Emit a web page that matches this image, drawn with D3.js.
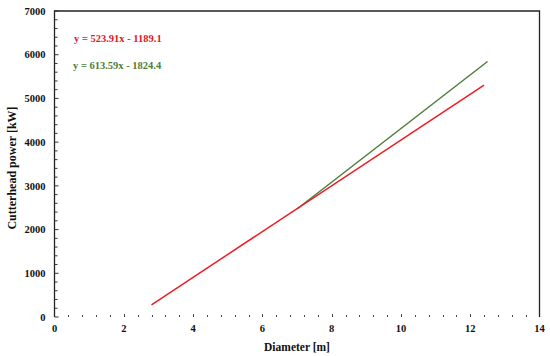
<!DOCTYPE html>
<html>
<head>
<meta charset="utf-8">
<script src="https://cdn.jsdelivr.net/npm/d3@7"></script>
<style>
  body { margin: 0; background: #fff; }
  svg { display: block; }
  text { font-family: "Liberation Serif", "Times New Roman", serif; font-weight: bold; }
</style>
</head>
<body>
<svg id="chart" width="550" height="356"></svg>
<script>
// Data
const xTicks = [0, 2, 4, 6, 8, 10, 12, 14];
const yTicks = [0, 1000, 2000, 3000, 4000, 5000, 6000, 7000];
const redX = [2.8, 12.4];
const redY = [278, 5307];
const greenX = [7.0, 12.5];
const greenY = [2471, 5845];
const redLabel = "y = 523.91x - 1189.1";
const greenLabel = "y = 613.59x - 1824.4";
const xTitle = "Diameter [m]";
const yTitle = "Cutterhead power [kW]";

const svg = d3.select("#chart");
const pL = 54.5, pR = 539.5, pT = 11, pB = 317;
const x = d3.scaleLinear().domain([0, 14]).range([pL, pR]);
const y = d3.scaleLinear().domain([0, 7000]).range([pB, pT]);

// frame: left, top, right
svg.append("path")
  .attr("d", `M${pL},${pB}V${pT}H${pR}V${pB}`)
  .attr("fill", "none").attr("stroke", "#222").attr("stroke-width", 1.3);

// y axis ticks (inside)
const yMinor = d3.range(0, 7001, 200);
svg.append("g").selectAll("line").data(yMinor).join("line")
  .attr("x1", pL).attr("x2", d => pL + (d % 1000 === 0 ? 4 : 3))
  .attr("y1", d => y(d)).attr("y2", d => y(d))
  .attr("stroke", "#333").attr("stroke-width", 1);

// x axis ticks (dots, no axis line)
const xMinor = d3.range(0, 14.001, 0.4).filter(d => d > 0.01 && d < 13.99);
svg.append("g").selectAll("line").data(xMinor).join("line")
  .attr("x1", d => Math.round(x(d)) + 0.5).attr("x2", d => Math.round(x(d)) + 0.5)
  .attr("y1", d => pB - (Math.abs(d / 2 - Math.round(d / 2)) < 0.01 ? 3 : 2))
  .attr("y2", pB)
  .attr("stroke", "#444").attr("stroke-width", 1);

// tick labels
svg.append("g").selectAll("text").data(yTicks).join("text")
  .attr("x", pL - 9).attr("y", d => y(d)).attr("dy", "0.35em")
  .attr("text-anchor", "end").attr("font-size", 10.5).attr("fill", "#111")
  .text(d => d);
svg.append("g").selectAll("text").data(xTicks).join("text")
  .attr("x", d => x(d)).attr("y", pB + 15)
  .attr("text-anchor", "middle").attr("font-size", 10.5).attr("fill", "#111")
  .text(d => d);

// axis titles
svg.append("text").attr("x", (pL + pR) / 2).attr("y", pB + 34)
  .attr("text-anchor", "middle").attr("font-size", 11.5).attr("fill", "#111")
  .text(xTitle);
svg.append("text").attr("transform", `translate(16,168) rotate(-90)`)
  .attr("text-anchor", "middle").attr("font-size", 12).attr("fill", "#111")
  .text(yTitle);

// lines
const line = d3.line().x(d => x(d[0])).y(d => y(d[1]));
svg.append("path").datum(greenX.map((v, i) => [v, greenY[i]]))
  .attr("d", line).attr("fill", "none").attr("stroke", "#4e7d3a").attr("stroke-width", 1.5);
svg.append("path").datum(redX.map((v, i) => [v, redY[i]]))
  .attr("d", line).attr("fill", "none").attr("stroke", "#ec1c24").attr("stroke-width", 1.5);

// equations
svg.append("text").attr("x", 74).attr("y", 42).attr("font-size", 10.5)
  .attr("fill", "#e4161f").text(redLabel);
svg.append("text").attr("x", 73).attr("y", 69).attr("font-size", 10.5)
  .attr("fill", "#4e7d3a").text(greenLabel);
</script>
</body>
</html>
